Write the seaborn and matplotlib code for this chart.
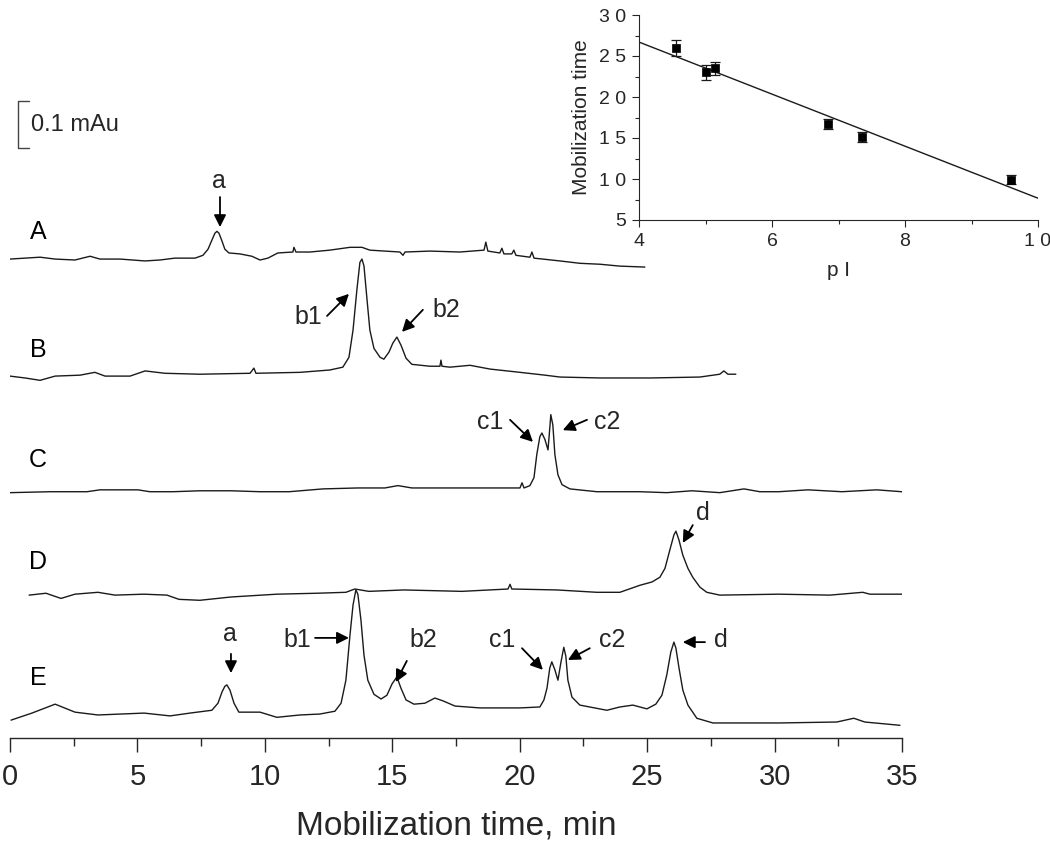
import numpy as np
import pandas as pd
import matplotlib
matplotlib.use('Agg')
import matplotlib.pyplot as plt
from matplotlib.ticker import MultipleLocator
from matplotlib import font_manager
import seaborn as sns

# ---------------- data ----------------
# electropherograms: time (min) and signal above each trace's baseline (mAu)
a_time = [0.00, 0.59, 1.18, 1.77, 2.55, 3.14, 3.53, 4.32, 5.30, 5.88, 6.47, 7.26, 7.57, 7.77, 7.92,
          8.04, 8.12, 8.20, 8.32, 8.43, 8.59, 9.02, 9.49, 9.81, 10.12, 10.51, 11.10, 11.14, 11.22,
          11.77, 12.55, 13.34, 13.81, 14.12, 14.71, 15.30, 15.42, 15.50, 16.48, 17.65, 18.60, 18.67,
          18.75, 19.22, 19.30, 19.38, 19.69, 19.77, 19.85, 20.40, 20.48, 20.56, 21.58, 22.36, 23.15,
          23.93, 24.91]
a_mau = [-0.002, 0.000, 0.002, -0.002, -0.004, 0.004, -0.002, -0.002, -0.006, -0.004, 0.000, 0.000,
         0.006, 0.019, 0.038, 0.053, 0.057, 0.053, 0.036, 0.019, 0.011, 0.009, 0.004, -0.004, 0.000,
         0.011, 0.013, 0.023, 0.013, 0.013, 0.017, 0.023, 0.023, 0.017, 0.015, 0.013, 0.006, 0.013,
         0.015, 0.013, 0.017, 0.034, 0.015, 0.011, 0.021, 0.009, 0.009, 0.017, 0.006, 0.002, 0.013,
         0.000, -0.006, -0.011, -0.013, -0.017, -0.019]

b_time = [0.00, 0.59, 1.18, 1.77, 2.75, 3.33, 3.73, 4.71, 5.30, 6.08, 7.45, 9.42, 9.57, 9.65, 11.38,
          12.55, 13.06, 13.30, 13.46, 13.61, 13.73, 13.81, 13.89, 14.01, 14.12, 14.28, 14.52, 14.67,
          14.87, 15.02, 15.18, 15.34, 15.54, 15.77, 16.48, 16.87, 16.91, 16.95, 17.26, 18.05, 18.83,
          20.01, 20.99, 21.58, 23.15, 25.11, 27.07, 27.85, 28.01, 28.17, 28.48]
b_mau = [-0.002, -0.006, -0.011, -0.002, 0.000, 0.006, -0.002, -0.002, 0.009, 0.004, 0.002, 0.004,
         0.015, 0.004, 0.006, 0.011, 0.017, 0.038, 0.096, 0.181, 0.240, 0.247, 0.232, 0.160, 0.096,
         0.057, 0.038, 0.034, 0.049, 0.068, 0.081, 0.064, 0.036, 0.023, 0.019, 0.019, 0.032, 0.019,
         0.017, 0.021, 0.013, 0.006, 0.000, -0.004, -0.006, -0.006, -0.004, 0.002, 0.009, 0.002,
         0.002]

c_time = [0.00, 1.57, 3.02, 3.53, 5.02, 5.49, 6.39, 7.45, 8.67, 9.81, 10.95, 12.28, 13.65, 14.71,
          15.22, 15.77, 16.59, 18.05, 19.42, 20.01, 20.09, 20.17, 20.40, 20.56, 20.67, 20.79, 20.87,
          20.99, 21.11, 21.19, 21.22, 21.30, 21.38, 21.50, 21.66, 21.97, 23.03, 24.72, 25.77, 26.76,
          27.85, 28.80, 29.42, 30.17, 31.31, 32.64, 34.01, 34.99]
c_mau = [-0.004, -0.002, -0.002, 0.002, 0.002, -0.002, -0.002, 0.000, 0.000, -0.002, -0.002, 0.004,
         0.006, 0.006, 0.011, 0.006, 0.006, 0.006, 0.006, 0.006, 0.017, 0.006, 0.011, 0.028, 0.077,
         0.115, 0.123, 0.109, 0.087, 0.140, 0.162, 0.140, 0.077, 0.034, 0.013, 0.004, -0.002, -0.002,
         -0.004, 0.000, -0.004, 0.004, -0.002, -0.002, 0.002, -0.002, 0.002, -0.002]

d_time = [0.75, 1.41, 2.00, 2.55, 3.45, 4.12, 5.26, 6.16, 6.63, 7.45, 8.67, 10.47, 12.04, 13.18,
          13.53, 14.08, 15.46, 17.73, 19.54, 19.62, 19.69, 21.46, 23.03, 23.93, 24.72, 25.19, 25.50,
          25.70, 25.89, 26.05, 26.13, 26.25, 26.40, 26.60, 26.79, 27.07, 27.34, 27.85, 30.17, 32.17,
          33.46, 33.74, 34.99]
d_mau = [-0.002, 0.002, -0.009, 0.000, 0.004, -0.002, 0.000, -0.002, -0.011, -0.013, -0.006, 0.000,
         0.002, 0.004, 0.011, 0.006, 0.009, 0.006, 0.011, 0.021, 0.011, 0.009, 0.004, 0.004, 0.019,
         0.026, 0.036, 0.055, 0.094, 0.126, 0.134, 0.115, 0.083, 0.055, 0.036, 0.015, 0.004, -0.002,
         0.000, -0.002, 0.004, 0.000, 0.000]

e_time = [0.04, 0.86, 1.77, 2.55, 3.45, 5.26, 6.28, 7.06, 7.92, 8.16, 8.32, 8.43, 8.51, 8.63, 8.79,
          8.98, 9.81, 10.47, 11.38, 12.16, 12.75, 12.99, 13.18, 13.34, 13.46, 13.57, 13.65, 13.77,
          13.89, 14.04, 14.28, 14.56, 14.79, 14.99, 15.18, 15.34, 15.54, 15.85, 16.28, 16.67, 16.99,
          17.46, 18.44, 20.01, 20.79, 20.95, 21.07, 21.18, 21.26, 21.38, 21.50, 21.62, 21.73, 21.81,
          21.89, 22.05, 22.36, 23.42, 23.93, 24.44, 24.99, 25.34, 25.58, 25.77, 25.93, 26.05, 26.13,
          26.25, 26.40, 26.60, 26.95, 27.58, 30.17, 32.44, 33.11, 33.54, 34.92]
e_mau = [-0.015, 0.000, 0.019, 0.002, -0.004, 0.000, -0.006, 0.000, 0.006, 0.021, 0.045, 0.057,
         0.060, 0.049, 0.021, 0.002, 0.002, -0.009, -0.004, -0.002, 0.004, 0.021, 0.070, 0.166,
         0.230, 0.262, 0.253, 0.198, 0.123, 0.070, 0.040, 0.030, 0.038, 0.062, 0.077, 0.053, 0.028,
         0.019, 0.021, 0.032, 0.026, 0.015, 0.011, 0.011, 0.013, 0.028, 0.053, 0.096, 0.109, 0.092,
         0.070, 0.109, 0.140, 0.121, 0.070, 0.034, 0.017, 0.006, 0.013, 0.017, 0.009, 0.019, 0.038,
         0.081, 0.130, 0.151, 0.138, 0.096, 0.049, 0.017, -0.011, -0.021, -0.021, -0.019, -0.011,
         -0.019, -0.026]

trace_names = ['A', 'B', 'C', 'D', 'E']
trace_offset = [1.021, 0.772, 0.526, 0.306, 0.053]   # mAu, vertical stacking
scale_mau = 0.1

# inset: mobilization time vs pI
pi_values = [4.55, 5.00, 5.15, 6.84, 7.35, 9.60]
mob_time = [26.0, 23.0, 23.5, 16.7, 15.1, 9.9]
mob_err = [1.0, 0.9, 0.8, 0.6, 0.6, 0.55]

# ---------------- build table ----------------
times = [a_time, b_time, c_time, d_time, e_time]
signals = [a_mau, b_mau, c_mau, d_mau, e_mau]
frames = []
for name, t, s, off in zip(trace_names, times, signals, trace_offset):
    frames.append(pd.DataFrame({'time': t, 'signal': np.array(s) + off, 'trace': name}))
df = pd.concat(frames, ignore_index=True)

# ---------------- style ----------------
sns.set_style('ticks')
plt.rcParams['font.family'] = ['Liberation Sans', 'DejaVu Sans']
try:
    font_manager.findfont('Liberation Sans Narrow', fallback_to_default=False)
    narrow = ['Liberation Sans Narrow', 'DejaVu Sans']
except Exception:
    narrow = ['Liberation Sans', 'DejaVu Sans']

ink = '#1a1a1a'
W, H = 1050, 843
fig = plt.figure(figsize=(W / 100, H / 100), dpi=100)

# main panel
ax = fig.add_axes([10 / W, 1 - 738 / H, 892 / W, 643 / H])
sns.lineplot(data=df, x='time', y='signal', hue='trace', units='trace', estimator=None,
             sort=False, palette=[ink] * 5, lw=1.0, legend=False, ax=ax)
ax.set_xlim(0, 35)
ax.set_ylim(0, 643 / 470)
for sp in ['left', 'top', 'right']:
    ax.spines[sp].set_visible(False)
ax.spines['bottom'].set_linewidth(1.0)
ax.set_yticks([])
ax.xaxis.set_major_locator(MultipleLocator(5))
ax.xaxis.set_minor_locator(MultipleLocator(2.5))
ax.tick_params(axis='x', which='major', length=10, width=1.0, direction='out', pad=8)
ax.tick_params(axis='x', which='minor', length=6, width=1.0, direction='out')
for lab in ax.get_xticklabels():
    lab.set_family(narrow)
    lab.set_fontsize(21)
ax.set_xlabel('Mobilization time, min', fontsize=24, labelpad=14)
ax.set_ylabel('')

# trace letters
for name, ty in zip(trace_names, [1.077, 0.826, 0.591, 0.374, 0.128]):
    ax.text(1.1, ty, name, fontsize=18, ha='center', va='center', color='black')

# peak labels with arrows: (label, text xy, tail xy, head xy)
notes = [
    ('a', (8.20, 1.185), (8.24, 1.151), (8.24, 1.087)),
    ('b1', (11.69, 0.896), (12.44, 0.898), (13.30, 0.945)),
    ('b2', (17.14, 0.911), (16.20, 0.911), (15.38, 0.864)),
    ('c1', (18.83, 0.672), (19.62, 0.677), (20.52, 0.630)),
    ('c2', (23.42, 0.672), (22.64, 0.677), (21.69, 0.655)),
    ('d', (27.19, 0.479), (26.79, 0.453), (26.40, 0.415)),
    ('a', (8.63, 0.221), (8.67, 0.179), (8.67, 0.138)),
    ('b1', (11.26, 0.209), (11.97, 0.213), (13.30, 0.213)),
    ('b2', (16.20, 0.209), (15.57, 0.164), (15.14, 0.119)),
    ('c1', (19.30, 0.209), (20.09, 0.191), (20.91, 0.145)),
    ('c2', (23.62, 0.209), (22.75, 0.191), (21.89, 0.166)),
    ('d', (27.89, 0.209), (27.27, 0.204), (26.40, 0.204)),
]
for lab, txy, tail, head in notes:
    ax.text(txy[0], txy[1], lab, fontsize=18, ha='center', va='center')
    ax.annotate('', xy=head, xytext=tail,
                arrowprops=dict(arrowstyle='-|>', color='black', lw=1.3,
                                mutation_scale=18, shrinkA=0, shrinkB=0))

# 0.1 mAu scale bracket
y0 = 1.255
ax.plot([0.75, 0.31, 0.31, 0.75], [y0, y0, y0 + scale_mau, y0 + scale_mau],
        color='#444444', lw=1.0, clip_on=False)
ax.text(0.82, y0 + scale_mau / 2, f'{scale_mau} mAu', fontsize=17, ha='left', va='center')

# inset
ins = fig.add_axes([639 / W, 1 - 220 / H, 399 / W, 205 / H])
ins.set_xlim(4, 10)
ins.set_ylim(5, 30)
sns.regplot(x=pi_values, y=mob_time, ci=None, truncate=False, scatter=False,
            line_kws=dict(color=ink, lw=1.0), ax=ins)
ins.errorbar(pi_values, mob_time, yerr=mob_err, fmt='none', ecolor=ink, elinewidth=0.9,
             capsize=3.5, capthick=0.9)
sns.scatterplot(x=pi_values, y=mob_time, marker='s', s=28, color='black', edgecolor='black',
                linewidth=0.5, ax=ins, zorder=3)
ins.set_xlim(4, 10)
ins.set_ylim(5, 30)
ins.patch.set_alpha(0)
for sp in ['top', 'right']:
    ins.spines[sp].set_visible(False)
ins.set_xticks([4, 6, 8, 10])
ins.set_xticklabels(['4', '6', '8', '1 0'])
ins.set_yticks([5, 10, 15, 20, 25, 30])
ins.set_yticklabels(['5', '1 0', '1 5', '2 0', '2 5', '3 0'])
ins.xaxis.set_minor_locator(MultipleLocator(1))
ins.yaxis.set_minor_locator(MultipleLocator(2.5))
ins.tick_params(which='major', length=5, width=0.8, labelsize=14, pad=4)
ins.tick_params(which='minor', length=3, width=0.8)
ins.set_xlabel('p I', fontsize=15, labelpad=8)
ins.set_ylabel('Mobilization time', fontsize=15, labelpad=6)

fig.savefig('out.png', dpi=100)
